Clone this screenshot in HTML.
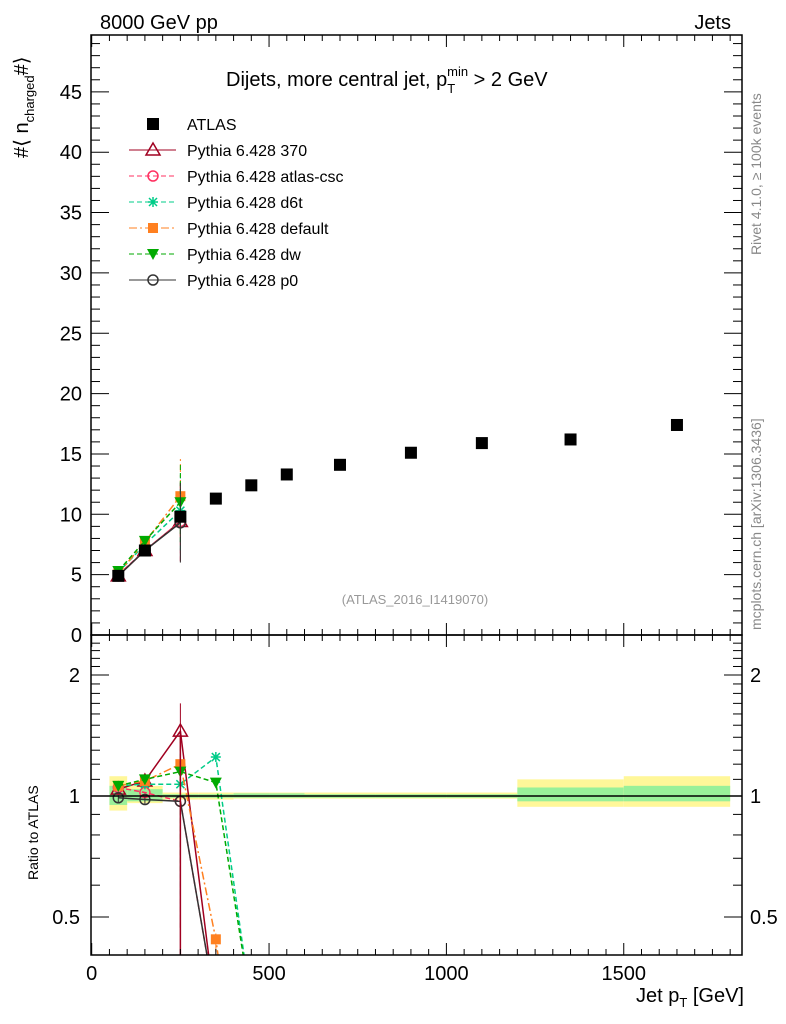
<!DOCTYPE html>
<html><head><meta charset="utf-8"><style>
body{margin:0;background:#fff;overflow:hidden;}
svg{display:block;font-family:"Liberation Sans",sans-serif;}
</style></head><body>
<svg id="c" width="786" height="1024" viewBox="0 0 786 1024">
<g id="bands"></g><g id="grid"></g><g id="series"></g><g id="axes"></g>
<text x="100" y="29" font-size="20">8000 GeV pp</text>
<text x="731" y="29" font-size="20" text-anchor="end">Jets</text>
<text x="226" y="86" font-size="20">Dijets, more central jet, p<tspan font-size="13" dy="7">T</tspan><tspan font-size="13" dy="-17" dx="-8">min</tspan><tspan dy="10"> &gt; 2 GeV</tspan></text>
<text transform="translate(761,255) rotate(-90)" font-size="14" fill="#888">Rivet 4.1.0, ≥ 100k events</text>
<text transform="translate(761,630) rotate(-90)" font-size="14" fill="#888">mcplots.cern.ch [arXiv:1306.3436]</text>
<text x="415" y="604" font-size="13" fill="#999" text-anchor="middle">(ATLAS_2016_I1419070)</text>
<text transform="translate(28,158) rotate(-90)" font-size="20">#⟨ n<tspan font-size="13" dy="6">charged</tspan><tspan dy="-6">#⟩</tspan></text>
<text transform="translate(38,880) rotate(-90)" font-size="14">Ratio to ATLAS</text>
<text x="744" y="1002" font-size="20" text-anchor="end">Jet p<tspan font-size="13" dy="5">T</tspan><tspan dy="-5"> [GeV]</tspan></text>
<g id="legend"></g>
</svg>
<script>
const binEdges=[50,100,200,300,400,500,600,800,1000,1200,1500,1800];
const atlasX=[75,150,250,350,450,550,700,900,1100,1350,1650];
const atlasY=[4.9,7.0,9.8,11.3,12.4,13.3,14.1,15.1,15.9,16.2,17.4];
const bandTotLo=[0.92,0.96,0.98,0.98,0.985,0.985,0.985,0.985,0.985,0.94,0.94];
const bandTotHi=[1.12,1.06,1.02,1.02,1.02,1.02,1.02,1.02,1.02,1.1,1.12];
const bandStatLo=[0.95,0.97,0.99,0.99,0.99,0.99,0.99,0.99,0.99,0.97,0.97];
const bandStatHi=[1.06,1.04,1.01,1.01,1.015,1.015,1.01,1.01,1.01,1.05,1.06];
const mcX=[75,150,250];
const mcMain370=[4.9,7.0,9.4];
const mcMainCsc=[5.0,7.0,9.4];
const mcMainD6t=[5.2,7.5,10.3];
const mcMainDef=[5.1,7.7,11.5];
const mcMainDw=[5.3,7.8,11.0];
const mcMainP0=[4.9,7.0,9.3];
const mcErr=[0.3,0.4,3.3];
const ratioX=[75,150,250,350,450];
const r370=[1.04,1.09,1.45,0.29,0.2];
const rCsc=[1.05,1.02,0.97,0.3,0.2];
const rD6t=[1.06,1.07,1.07,1.25,0.3];
const rDef=[1.06,1.09,1.2,0.44,0.1];
const rDw=[1.06,1.1,1.15,1.08,0.3];
const rP0=[0.99,0.98,0.97,0.3,0.2];
const xTicks=[0,500,1000,1500];
const yTicks=[0,5,10,15,20,25,30,35,40,45];
const rTicks=[0.5,1,2];

const NS='http://www.w3.org/2000/svg';
const L=91,R=742,T=35,B=635,RB=955;
const X=v=>91.7+v*0.3547;
const Y=v=>B-v*12.07;
const RY=v=>796-Math.log2(v)*121;
function mk(p,tag,a){const e=document.createElementNS(NS,tag);for(const k in a)e.setAttribute(k,a[k]);document.getElementById(p).appendChild(e);return e;}
const defs=document.createElementNS(NS,'defs');defs.innerHTML='<clipPath id="cm"><rect x="91" y="35" width="651" height="600"/></clipPath><clipPath id="cr"><rect x="91" y="635" width="651" height="320"/></clipPath>';document.getElementById('c').prepend(defs);
for(let i=0;i<atlasX.length;i++){
 let x0=X(binEdges[i]),x1=X(binEdges[i+1]);
 let e=mk('bands','rect',{x:x0,y:RY(bandTotHi[i]),width:x1-x0,height:RY(bandTotLo[i])-RY(bandTotHi[i]),fill:'#fff799'});
 
 e=mk('bands','rect',{x:x0,y:RY(bandStatHi[i]),width:x1-x0,height:RY(bandStatLo[i])-RY(bandStatHi[i]),fill:'#99f099'});
 
}
for(const [y0,y1] of [[T,B],[B,RB]]){const e=mk('axes','rect',{x:L,y:y0,width:R-L,height:y1-y0,fill:'none',stroke:'#000','stroke-width':1.5});}
let e=mk('axes','line',{x1:L,x2:R,y1:RY(1),y2:RY(1),stroke:'#000','stroke-width':1.5});
for(let v=0;v<=1830;v+=50){const big=v%500==0,h=big?12:6;
 for(const y of [B,RB]){mk('axes','line',{x1:X(v),x2:X(v),y1:y,y2:y-h,stroke:'#000'});}
 mk('axes','line',{x1:X(v),x2:X(v),y1:T,y2:T+h,stroke:'#000'});mk('axes','line',{x1:X(v),x2:X(v),y1:B,y2:B+h,stroke:'#000'});}
xTicks.forEach(v=>{const t=mk('axes','text',{x:X(v),y:980,'font-size':20,'text-anchor':'middle'});t.textContent=v;});
for(let v=0;v<=49;v++){const big=v%5==0,h=big?18:9;mk('axes','line',{x1:L,x2:L+h,y1:Y(v),y2:Y(v),stroke:'#000'});mk('axes','line',{x1:R,x2:R-h,y1:Y(v),y2:Y(v),stroke:'#000'});}
yTicks.forEach(v=>{const t=mk('axes','text',{x:82,y:Y(v)+7,'font-size':20,'text-anchor':'end'});t.textContent=v;});
for(let v=0.5;v<=2.5;v+=0.1){const big=[0.5,1,2].some(b=>Math.abs(b-v)<1e-6),h=big?18:9,y=RY(v);if(y<B||y>RB)continue;mk('axes','line',{x1:L,x2:L+h,y1:y,y2:y,stroke:'#000'});mk('axes','line',{x1:R,x2:R-h,y1:y,y2:y,stroke:'#000'});}
rTicks.forEach(v=>{for(const [x,a] of [[80,'end'],[750,'start']]){const t=mk('axes','text',{x:x,y:RY(v)+7,'font-size':20,'text-anchor':a});t.textContent=v;}});
const S=[
 {n:'370',m:mcMain370,r:r370,c:'#a00020',d:'',mk:'tri'},
 {n:'atlas-csc',m:mcMainCsc,r:rCsc,c:'#ff3060',d:'5,3',mk:'circ'},
 {n:'d6t',m:mcMainD6t,r:rD6t,c:'#00cc88',d:'5,3',mk:'star'},
 {n:'default',m:mcMainDef,r:rDef,c:'#ff8020',d:'8,3,2,3',mk:'sq'},
 {n:'dw',m:mcMainDw,r:rDw,c:'#00aa00',d:'5,3',mk:'tdown'},
 {n:'p0',m:mcMainP0,r:rP0,c:'#333',d:'',mk:'circ'}];
function marker(g,type,x,y,c){
 let el;
 if(type=='tri')el=mk(g,'path',{d:`M${x},${y-7}L${x+7},${y+5}L${x-7},${y+5}Z`,fill:'none',stroke:c,'stroke-width':1.5});
 else if(type=='circ')el=mk(g,'circle',{cx:x,cy:y,r:5,fill:'none',stroke:c,'stroke-width':1.5});
 else if(type=='sq')el=mk(g,'rect',{x:x-5,y:y-5,width:10,height:10,fill:c});
 else if(type=='tdown')el=mk(g,'path',{d:`M${x-6},${y-5}L${x+6},${y-5}L${x},${y+6}Z`,fill:c});
 else if(type=='star'){el=mk(g,'path',{d:`M${x-5},${y}H${x+5}M${x},${y-5}V${y+5}M${x-4},${y-4}L${x+4},${y+4}M${x-4},${y+4}L${x+4},${y-4}`,stroke:c,'stroke-width':1.5});}
 else if(type=='atlas')el=mk(g,'rect',{x:x-6,y:y-6,width:12,height:12,fill:'#000'});
 return el;
}
const gm=mk('series','g',{'clip-path':'url(#cm)'});gm.id='gm';
const gr=mk('series','g',{'clip-path':'url(#cr)'});gr.id='gr';
S.forEach(s=>{
 let p=mk('gm','polyline',{points:mcX.map((x,i)=>X(x)+','+Y(s.m[i])).join(' '),fill:'none',stroke:s.c,'stroke-width':1.5,'stroke-dasharray':s.d});
 
 mcX.forEach((x,i)=>{mk('gm','line',{x1:X(x),x2:X(x),y1:Y(s.m[i]-mcErr[i]),y2:Y(s.m[i]+mcErr[i]),stroke:s.c,'stroke-dasharray':s.d});
  const q=marker('gm',s.mk,X(x),Y(s.m[i]),s.c);});
 p=mk('gr','polyline',{points:ratioX.map((x,i)=>X(x)+','+RY(s.r[i])).join(' '),fill:'none',stroke:s.c,'stroke-width':1.5,'stroke-dasharray':s.d});
 
 ratioX.forEach((x,i)=>{const rr=s.r[i];if(rr<0.42)return;
  const er=i==2?0.5:0.03;mk('gr','line',{x1:X(x),x2:X(x),y1:RY(Math.max(rr-er,0.1)),y2:RY(rr+er*0.5),stroke:s.c,'stroke-dasharray':s.d});
  const q=marker('gr',s.mk,X(x),RY(rr),s.c);});
});
mk('gr','line',{x1:X(250),x2:X(250),y1:RY(1.45),y2:RB,stroke:'#a00020','stroke-width':1.5});
atlasX.forEach((x,i)=>{const q=marker('gm','atlas',X(x),Y(atlasY[i]));});
const names=['ATLAS','Pythia 6.428 370','Pythia 6.428 atlas-csc','Pythia 6.428 d6t','Pythia 6.428 default','Pythia 6.428 dw','Pythia 6.428 p0'];
names.forEach((n,i)=>{const y=124+i*26;
 const g=mk('legend','g',{});g.id='lg'+i;
 
 
 if(i==0)marker('lg0','atlas',153,y);
 else{const s=S[i-1];mk('lg'+i,'line',{x1:129,x2:176,y1:y,y2:y,stroke:s.c,'stroke-dasharray':s.d});marker('lg'+i,s.mk,153,y,s.c);}
 const t=mk('lg'+i,'text',{x:187,y:y+6,'font-size':16});t.textContent=n;});
</script>
</body></html>
